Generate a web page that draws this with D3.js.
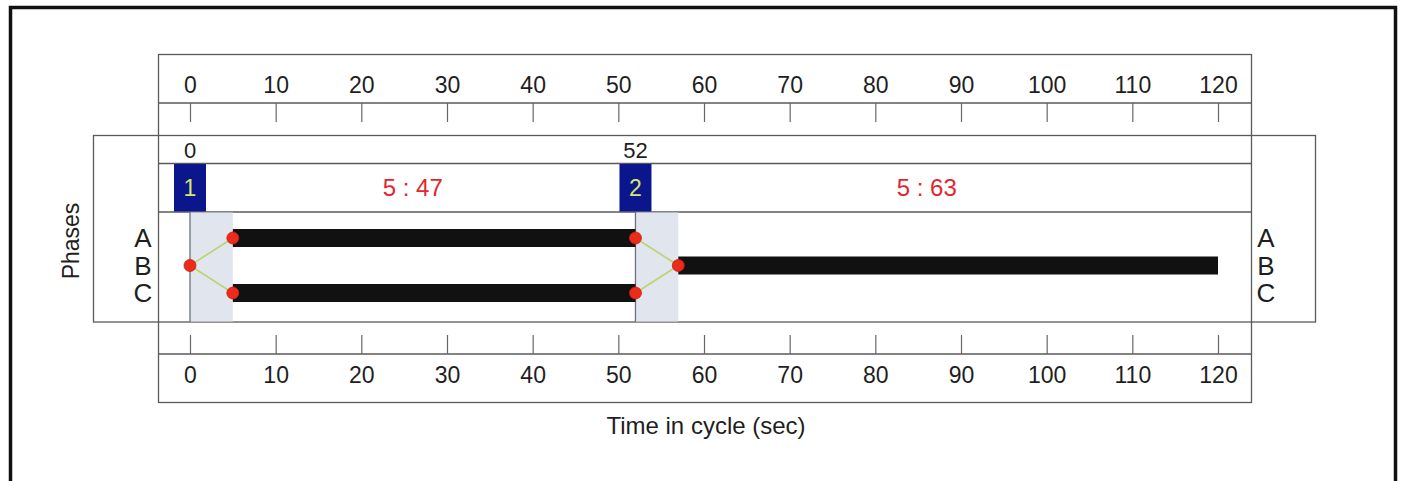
<!DOCTYPE html>
<html>
<head>
<meta charset="utf-8">
<script src="https://cdn.jsdelivr.net/npm/d3@7"></script>
<style>
  html, body { margin: 0; padding: 0; background: #fff; }
  svg { display: block; font-family: "Liberation Sans", Arial, sans-serif; }
</style>
</head>
<body>
<svg id="chart" width="1402" height="481"></svg>
<script>
// ---- data ----
const cycleLength = 120;
const tickValues = [0, 10, 20, 30, 40, 50, 60, 70, 80, 90, 100, 110, 120];
const signalGroups = ["A", "B", "C"];
const phaseIds = [1, 2];
const phaseStarts = [0, 52];
const intergreens = [5, 5];
const greenTimes = [47, 63];
const phaseGroups = [["A", "C"], ["B"]];
const axisTitle = "Time in cycle (sec)";
const yTitle = "Phases";

// ---- layout ----
const svg = d3.select("#chart");
const x = d3.scaleLinear().domain([0, cycleLength]).range([190, 1218]);
const y = d3.scalePoint().domain(signalGroups).range([238, 293]);

const frameL = 158, frameR = 1251;
const lineCol = "#5a5a5a";
const textCol = "#1e1e1e";

// outer thick frame
svg.append("rect").attr("x", 10.5).attr("y", 7.5).attr("width", 1385).attr("height", 520)
  .attr("fill", "none").attr("stroke", "#111").attr("stroke-width", 3.5);

// phase box (wider)
svg.append("rect").attr("x", 93.5).attr("y", 135.5).attr("width", 1222).attr("height", 186.5)
  .attr("fill", "none").attr("stroke", lineCol).attr("stroke-width", 1.3);

// axis frame
svg.append("rect").attr("x", frameL + 0.5).attr("y", 54.5).attr("width", frameR - frameL).attr("height", 348)
  .attr("fill", "none").attr("stroke", lineCol).attr("stroke-width", 1.3);

[103, 163.5, 212, 354].forEach(yy => {
  svg.append("line").attr("x1", frameL).attr("x2", frameR + 0.5).attr("y1", yy).attr("y2", yy)
    .attr("stroke", lineCol).attr("stroke-width", 1.3);
});

// ---- axes ----
function styleAxis(g) {
  g.select(".domain").remove();
  g.selectAll(".tick line").attr("stroke", "#666").attr("stroke-width", 1.2);
  g.selectAll(".tick text").attr("fill", textCol).attr("font-size", 23)
    .attr("font-family", "Liberation Sans, Arial, sans-serif");
}
// top labels
svg.append("g").attr("transform", "translate(0,103)")
  .call(d3.axisTop(x).tickValues(tickValues).tickSize(0).tickPadding(10).tickFormat(d3.format("d")))
  .call(styleAxis);
// top ticks
svg.append("g").attr("transform", "translate(0,103)")
  .call(d3.axisBottom(x).tickValues(tickValues).tickSize(19).tickFormat(""))
  .call(styleAxis);
// bottom ticks
svg.append("g").attr("transform", "translate(0,354)")
  .call(d3.axisTop(x).tickValues(tickValues).tickSize(19).tickFormat(""))
  .call(styleAxis);
// bottom labels
svg.append("g").attr("transform", "translate(0,354)")
  .call(d3.axisBottom(x).tickValues(tickValues).tickSize(0).tickPadding(13).tickFormat(d3.format("d")))
  .call(styleAxis);

// axis title
svg.append("text").attr("x", 706).attr("y", 434).attr("text-anchor", "middle")
  .attr("font-size", 24).attr("fill", textCol).text(axisTitle);

// y title
svg.append("text").attr("transform", "translate(79,241) rotate(-90)").attr("text-anchor", "middle")
  .attr("font-size", 23).attr("fill", textCol).text(yTitle);

// ---- phases ----
const phases = phaseIds.map((id, i) => {
  const start = phaseStarts[i];
  const next = i + 1 < phaseIds.length ? phaseStarts[i + 1] : cycleLength;
  const prev = i > 0 ? i - 1 : phaseIds.length - 1;
  return { id, start, next, ig: intergreens[i], green: greenTimes[i], groups: phaseGroups[i], prevGroups: phaseGroups[prev] };
});

// intergreen shading
svg.selectAll("rect.ig").data(phases).join("rect").attr("class", "ig")
  .attr("x", d => x(d.start)).attr("width", d => x(d.start + d.ig) - x(d.start))
  .attr("y", 212.5).attr("height", 109).attr("fill", "#e1e6ee");

// phase start lines
svg.selectAll("line.ps").data(phases).join("line").attr("class", "ps")
  .attr("x1", d => x(d.start)).attr("x2", d => x(d.start))
  .attr("y1", 212).attr("y2", 322).attr("stroke", "#6a7080").attr("stroke-width", 1.3);

// phase start labels
svg.selectAll("text.pst").data(phases).join("text").attr("class", "pst")
  .attr("x", d => x(d.start)).attr("y", 158).attr("text-anchor", "middle")
  .attr("font-size", 22).attr("fill", textCol).text(d => d.start);

// phase blocks
svg.selectAll("rect.pb").data(phases).join("rect").attr("class", "pb")
  .attr("x", d => x(d.start) - 16).attr("width", 32).attr("y", 164).attr("height", 47.5)
  .attr("fill", "#0b168c");
svg.selectAll("text.pbt").data(phases).join("text").attr("class", "pbt")
  .attr("x", d => x(d.start)).attr("y", 196).attr("text-anchor", "middle")
  .attr("font-size", 23).attr("fill", "#d6e86a").text(d => d.id);

// red timing labels
svg.selectAll("text.tl").data(phases).join("text").attr("class", "tl")
  .attr("x", d => x((d.start + d.next) / 2)).attr("y", 196).attr("text-anchor", "middle")
  .attr("font-size", 24).attr("fill", "#e3262e").text(d => `${d.ig} : ${d.green}`);

// green bars
const bars = phases.flatMap(p => p.groups.map(g => ({ g, s: p.start + p.ig, e: p.next })));
svg.selectAll("rect.bar").data(bars).join("rect").attr("class", "bar")
  .attr("x", d => x(d.s)).attr("width", d => x(d.e) - x(d.s))
  .attr("y", d => y(d.g) - 9).attr("height", 18).attr("fill", "#111");

// transition links
const links = phases.flatMap(p => p.prevGroups.flatMap(a => p.groups.map(b => ({ a, b, t0: p.start, t1: p.start + p.ig }))));
svg.selectAll("line.lk").data(links).join("line").attr("class", "lk")
  .attr("x1", d => x(d.t0)).attr("y1", d => y(d.a)).attr("x2", d => x(d.t1)).attr("y2", d => y(d.b))
  .attr("stroke", "#b9d570").attr("stroke-width", 1.6);

// dots
const dotMap = new Map();
links.forEach(l => {
  dotMap.set(l.t0 + "|" + l.a, { t: l.t0, g: l.a });
  dotMap.set(l.t1 + "|" + l.b, { t: l.t1, g: l.b });
});
svg.selectAll("circle.dot").data([...dotMap.values()]).join("circle").attr("class", "dot")
  .attr("cx", d => x(d.t)).attr("cy", d => y(d.g)).attr("r", 6)
  .attr("fill", "#ec2b1a").attr("stroke", "#c81c10").attr("stroke-width", 0.8);

// group labels left and right
[143, 1266].forEach(cx => {
  svg.selectAll(null).data(signalGroups).join("text")
    .attr("x", cx).attr("y", d => y(d)).attr("dy", "0.36em").attr("text-anchor", "middle")
    .attr("font-size", 26).attr("fill", textCol).text(d => d);
});
</script>
</body>
</html>
